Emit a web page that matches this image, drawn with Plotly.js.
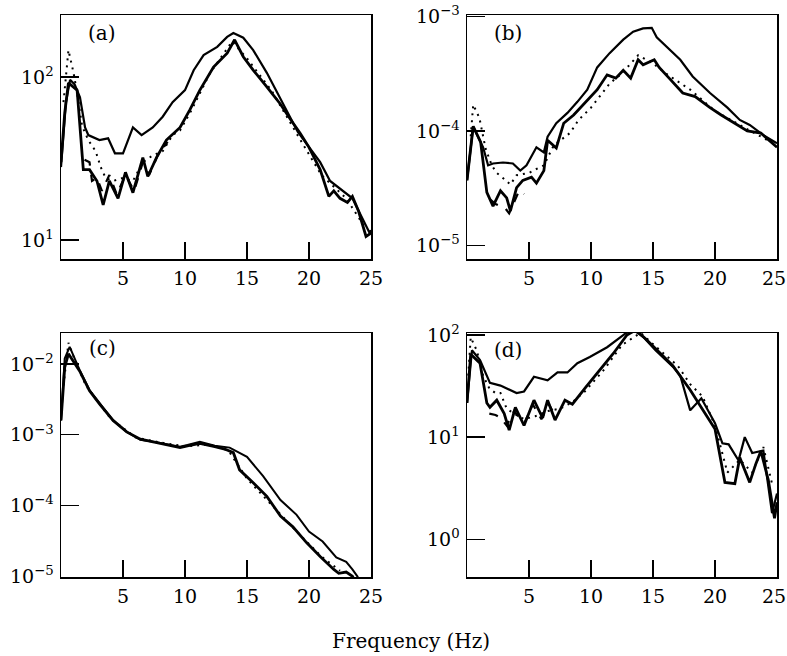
<!DOCTYPE html>
<html>
<head>
<meta charset="utf-8">
<script src="https://cdn.plot.ly/plotly-3.0.1.min.js"></script>
<style>html,body{margin:0;padding:0;background:#fff;}#chart{width:787px;height:656px;}</style>
</head>
<body>
<div id="chart"></div>
<script>
// ---------- Panel (a) ----------
const aUpperX = [0, 0.4, 0.73, 1.1, 1.53, 1.94, 2.2, 3.1, 3.8, 4.35, 5.0, 5.8, 6.5, 7.4, 8.2, 9.0, 10.0, 10.7, 11.5, 12.6, 13.4, 13.9, 14.7, 15.5, 16.6, 17.7, 18.5, 19.1, 19.8, 20.9, 21.7, 22.4, 23.5, 24.1, 24.9, 25];
const aUpperY = [28, 70, 96, 90, 75, 49, 44, 41, 42, 34, 34, 49, 44, 49, 57, 70, 83, 110, 136, 153, 176, 186, 174, 146, 106, 74, 56, 46, 39, 30, 23, 21, 18, 14.6, 11, 11.5];
const aLowerX = [0, 0.3, 0.6, 1.3, 1.8, 2.3, 2.9, 3.4, 3.9, 4.6, 5.2, 5.8, 6.6, 7.0, 7.7, 8.5, 9.6, 10.4, 11.2, 12.3, 13.4, 14.0, 14.7, 15.5, 16.6, 17.7, 18.5, 19.3, 20.0, 20.9, 21.6, 22.0, 22.5, 23.1, 23.5, 24.0, 24.6, 25];
const aLowerY = [30, 60, 92, 83, 27, 27, 23, 16.4, 23, 18, 26, 19.5, 32, 24.5, 32, 41, 49, 63, 83, 115, 140, 169, 133, 110, 87, 68, 55, 45, 37, 27, 18.5, 20, 18, 17, 18.5, 15, 10.5, 11];
const aDashX = [1.9, 2.3, 2.5, 2.9, 3.3, 3.9, 4.5, 5.2, 5.9, 6.6, 7.1, 7.8, 8.6];
const aDashY = [31, 30, 23, 24, 20, 25, 19, 25, 20, 30, 25, 33, 40];
const aDotX = [0.2, 0.6, 1.0, 1.3, 1.7, 2.2, 2.8, 3.2, 3.6, 4.2, 5.0, 5.8, 6.6, 7.4, 8.2, 9.0, 9.6, 10.5, 12.0, 13.8, 15.0, 17.0, 19.0, 21.0, 23.0, 24.5];
const aDotY = [70, 146, 107, 80, 50, 41, 35, 28, 24, 23, 24, 23, 30, 33, 35, 44, 47, 62, 105, 165, 130, 82, 45, 25, 18, 12];

// ---------- Panel (b) ----------
const bUpperX = [0, 0.5, 1.3, 1.7, 2.1, 2.9, 3.7, 4.3, 4.8, 5.6, 6.2, 6.5, 7.2, 8.1, 8.9, 9.7, 10.5, 11.5, 12.6, 13.4, 14.2, 14.9, 15.3, 16.1, 17.2, 18.2, 19.6, 21.0, 22.0, 22.8, 23.9, 25];
const bUpperY = [3.7e-5, 1.09e-4, 7.2e-5, 5.0e-5, 5.2e-5, 5.3e-5, 5.2e-5, 4.5e-5, 5.0e-5, 7.2e-5, 6.5e-5, 8.9e-5, 1.17e-4, 1.44e-4, 1.8e-4, 2.3e-4, 3.6e-4, 4.8e-4, 6.3e-4, 7.4e-4, 7.9e-4, 8.0e-4, 6.6e-4, 5.5e-4, 4.2e-4, 3.0e-4, 2.15e-4, 1.6e-4, 1.25e-4, 1.13e-4, 9.2e-5, 7.8e-5];
const bLowerX = [0, 0.5, 1.1, 1.6, 2.1, 2.7, 3.2, 3.5, 4.0, 4.5, 5.2, 5.6, 6.2, 6.5, 7.2, 7.8, 8.6, 9.7, 10.5, 11.3, 12.0, 12.6, 13.2, 13.8, 14.2, 15.1, 15.5, 16.3, 17.4, 18.4, 19.6, 20.5, 21.8, 22.6, 23.7, 25];
const bLowerY = [3.7e-5, 1.1e-4, 8.0e-5, 2.9e-5, 2.2e-5, 3.0e-5, 2.6e-5, 2.0e-5, 3.2e-5, 3.7e-5, 3.95e-5, 3.5e-5, 4.5e-5, 8.3e-5, 7.1e-5, 1.17e-4, 1.38e-4, 1.87e-4, 2.3e-4, 3.1e-4, 2.9e-4, 3.4e-4, 2.9e-4, 4.2e-4, 3.8e-4, 4.2e-4, 3.6e-4, 2.9e-4, 2.15e-4, 2.0e-4, 1.6e-4, 1.38e-4, 1.13e-4, 1.0e-4, 9.6e-5, 7.2e-5];
const bDashX = [1.9, 2.3, 3.1, 3.4, 4.2, 4.6];
const bDashY = [2.5e-5, 2.3e-5, 2.1e-5, 1.9e-5, 3.0e-5, 2.8e-5];
const bDotX = [0.3, 0.5, 1.0, 1.5, 2.0, 2.4, 3.0, 3.5, 4.0, 5.0, 5.5, 6.2, 7.0, 8.3, 9.0, 10.0, 11.5, 12.5, 13.8, 15.0, 16.2, 18.0, 20.0, 22.5, 25];
const bDotY = [9e-5, 1.7e-4, 1.3e-4, 7e-5, 5e-5, 4.3e-5, 3.8e-5, 3.4e-5, 4.1e-5, 4.3e-5, 4.6e-5, 5e-5, 7.5e-5, 9.6e-5, 1.25e-4, 1.6e-4, 2.6e-4, 3.2e-4, 4.6e-4, 3.9e-4, 3.1e-4, 2.3e-4, 1.5e-4, 1.05e-4, 7.5e-5];

// ---------- Panel (c) ----------
const cUpperX = [0, 0.3, 0.7, 1.5, 2.3, 3.1, 4.2, 5.3, 6.4, 8.0, 9.6, 10.2, 11.2, 12.4, 13.6, 15.0, 16.3, 17.7, 19.0, 20.0, 21.1, 22.2, 23.0, 23.5, 23.9, 24.5];
const cUpperY = [1.6e-3, 1.2e-2, 1.75e-2, 8.3e-3, 4.3e-3, 2.8e-3, 1.6e-3, 1.1e-3, 8.5e-4, 7.7e-4, 6.8e-4, 7.2e-4, 8e-4, 7e-4, 6.6e-4, 4.9e-4, 2.6e-4, 1.2e-4, 7.4e-5, 4.3e-5, 3.1e-5, 1.85e-5, 1.6e-5, 1.25e-5, 1e-5, 6e-6];
const cLowerX = [0, 0.3, 0.6, 1.5, 2.3, 3.1, 4.2, 5.3, 6.4, 8.0, 9.6, 10.2, 11.2, 12.4, 13.2, 13.9, 14.4, 15.5, 16.6, 17.7, 18.7, 19.8, 20.9, 22.0, 22.4, 23.0, 23.5, 24.0];
const cLowerY = [1.6e-3, 9e-3, 1.4e-2, 8.0e-3, 4.2e-3, 2.75e-3, 1.6e-3, 1.1e-3, 8.7e-4, 7.6e-4, 6.6e-4, 7.0e-4, 7.6e-4, 6.8e-4, 6.3e-4, 5.6e-4, 3.2e-4, 2.1e-4, 1.35e-4, 7.1e-5, 5.0e-5, 3.0e-5, 1.9e-5, 1.25e-5, 1.1e-5, 1.15e-5, 1e-5, 7e-6];
const cDotX = [0.2, 0.6, 1.0, 2.0, 4.0, 6.0, 8.0, 10.0, 12.0, 13.5, 15.0, 17.0, 19.0, 21.0, 22.5];
const cDotY = [5e-3, 2.0e-2, 1.3e-2, 5e-3, 1.7e-3, 9.2e-4, 7.8e-4, 6.9e-4, 7.3e-4, 6.0e-4, 2.4e-4, 1.0e-4, 4.3e-5, 1.9e-5, 1.2e-5];

// ---------- Panel (d) ----------
const dUpperX = [0, 0.4, 1.05, 1.6, 1.85, 2.7, 3.2, 4.0, 4.6, 5.4, 6.5, 7.3, 8.1, 8.9, 9.9, 11.3, 12.6, 13.3, 14.2, 15.2, 16.6, 17.2, 18.0, 18.9, 20.0, 20.6, 21.1, 21.9, 22.4, 23.0, 23.9, 24.6, 25];
const dUpperY = [21.6, 71, 57, 39, 34, 32, 30, 27, 28, 39, 36, 43, 43, 53, 61, 76, 100, 115, 96, 71, 49, 40, 18.3, 24, 13.7, 8.7, 8.5, 5.9, 10, 7, 7.4, 1.8, 2.8];
const dLowerX = [0, 0.3, 1.05, 1.6, 1.85, 2.4, 3.0, 3.4, 3.9, 4.6, 5.4, 6.1, 6.5, 7.1, 7.9, 8.5, 9.6, 10.7, 11.8, 12.9, 13.6, 14.4, 15.5, 16.6, 18.0, 19.1, 20.0, 20.8, 21.6, 22.0, 22.8, 23.3, 23.7, 24.3, 24.8, 25];
const dLowerY = [21.6, 65, 53, 21.6, 19.6, 23, 17, 11.7, 19.6, 13, 23, 15.4, 23, 14.7, 23, 21, 31, 45, 66, 100, 112, 92, 68, 50, 29, 18, 12, 3.6, 3.5, 6.3, 3.6, 5.5, 7.3, 3.8, 1.6, 2.3];
const dDashX = [1.8, 2.3, 2.7, 3.2, 3.8, 4.6, 5.3, 6.0, 6.6, 7.2];
const dDashY = [17, 16.5, 15.5, 13, 18, 13.5, 21, 15, 21, 15.5];
const dDotX = [0.1, 0.3, 0.8, 1.3, 1.8, 2.3, 2.7, 3.2, 3.8, 4.6, 5.5, 6.5, 7.5, 8.5, 9.5, 11.0, 12.5, 14.0, 15.5, 17.0, 18.0, 19.0, 20.0, 21.0, 22.0, 23.0, 23.9, 24.6];
const dDotY = [40, 95, 70, 40, 30, 27, 27, 19, 17, 15, 16, 18, 19, 22, 28, 45, 80, 105, 72, 50, 33, 25, 13, 4.5, 6, 4.5, 8, 3.5];

// ---------- Axis ticks and labels ----------
const panelLabels = ['(a)', '(b)', '(c)', '(d)'];
const xTickVals = [5, 10, 15, 20, 25];
const xTickText = ['5', '10', '15', '20', '25'];
const xTickTextRight = ['5', '10', '15', '20', '25\u00a0'];
const aTickVals = [10, 100];
const aTickText = ['10<sup>1</sup>', '10<sup>2</sup>'];
const bTickVals = [1e-5, 1e-4, 1e-3];
const bTickText = ['10<sup>\u22125</sup>', '10<sup>\u22124</sup>', '10<sup>\u22123</sup>'];
const cTickVals = [1e-5, 1e-4, 1e-3, 1e-2];
const cTickText = ['10<sup>\u22125</sup>', '10<sup>\u22124</sup>', '10<sup>\u22123</sup>', '10<sup>\u22122</sup>'];
const dTickVals = [1, 10, 100];
const dTickText = ['10<sup>0</sup>', '10<sup>1</sup>', '10<sup>2</sup>'];
const xTitle = 'Frequency (Hz)';

const FONT = 'DejaVu Serif, serif';

function line(x, y, xa, ya, width, dash) {
  return {x: x, y: y, xaxis: xa, yaxis: ya, type: 'scatter', mode: 'lines',
    line: {color: '#000', width: width, dash: dash || 'solid'}, hoverinfo: 'skip', showlegend: false};
}
const DOT = '2px,5px';

const traces = [
  line(aDotX, aDotY, 'x', 'y', 2, DOT),
  line(aDashX, aDashY, 'x', 'y', 2.2, 'dash'),
  line(aUpperX, aUpperY, 'x', 'y', 2.2),
  line(aLowerX, aLowerY, 'x', 'y', 2.8),
  line(bDotX, bDotY, 'x2', 'y2', 2, DOT),
  line(bDashX, bDashY, 'x2', 'y2', 2.2, 'dash'),
  line(bUpperX, bUpperY, 'x2', 'y2', 2.2),
  line(bLowerX, bLowerY, 'x2', 'y2', 2.8),
  line(cDotX, cDotY, 'x3', 'y3', 2, DOT),
  line(cUpperX, cUpperY, 'x3', 'y3', 2),
  line(cLowerX, cLowerY, 'x3', 'y3', 2.8),
  line(dDotX, dDotY, 'x4', 'y4', 2, DOT),
  line(dDashX, dDashY, 'x4', 'y4', 2.2, 'dash'),
  line(dUpperX, dUpperY, 'x4', 'y4', 2.2),
  line(dLowerX, dLowerY, 'x4', 'y4', 2.8)
];

const W = 787, H = 656;
function dom(a, b, total) { return [a / total, b / total]; }
const colL = dom(61, 371, W), colR = dom(467, 777, W);
const rowT = [1 - 259 / H, 1 - 15 / H], rowB = [1 - 577 / H, 1 - 333 / H];

function xax(domain, anchor, text) {
  return {domain: domain, anchor: anchor, range: [0, 25], showgrid: false, zeroline: false,
    showline: true, linecolor: '#000', linewidth: 1.5, mirror: true,
    ticks: 'inside', ticklen: 17, tickwidth: 1.3, tickcolor: '#000',
    tickvals: xTickVals, ticktext: text, ticklabelstandoff: 2, ticklabeloverflow: 'allow',
    tickfont: {family: FONT, size: 19, color: '#000'}};
}
function yax(domain, anchor, range, vals, text) {
  return {domain: domain, anchor: anchor, type: 'log', range: range, showgrid: false, zeroline: false,
    showline: true, linecolor: '#000', linewidth: 1.5, mirror: true,
    ticks: 'inside', ticklen: 18, tickwidth: 1.3, tickcolor: '#000',
    tickvals: vals, ticktext: text, ticklabelstandoff: 2, ticklabeloverflow: 'allow',
    tickfont: {family: FONT, size: 19, color: '#000'}};
}

const layout = {
  width: W, height: H, margin: {l: 0, r: 0, t: 0, b: 0},
  paper_bgcolor: '#fff', plot_bgcolor: '#fff', showlegend: false,
  xaxis: xax(colL, 'y', xTickText), yaxis: yax(rowT, 'x', [0.883, 2.38], aTickVals, aTickText),
  xaxis2: xax(colR, 'y2', xTickTextRight), yaxis2: yax(rowT, 'x2', [-5.12, -2.985], bTickVals, bTickText),
  xaxis3: xax(colL, 'y3', xTickText), yaxis3: yax(rowB, 'x3', [-5.01, -1.56], cTickVals, cTickText),
  xaxis4: xax(colR, 'y4', xTickTextRight), yaxis4: yax(rowB, 'x4', [-0.37, 2.02], dTickVals, dTickText),
  annotations: [
    {text: panelLabels[0], xref: 'paper', yref: 'paper', x: 102 / W, y: 1 - 33 / H, showarrow: false, xanchor: 'center', yanchor: 'middle', font: {family: FONT, size: 20, color: '#000'}},
    {text: panelLabels[1], xref: 'paper', yref: 'paper', x: 508 / W, y: 1 - 33 / H, showarrow: false, xanchor: 'center', yanchor: 'middle', font: {family: FONT, size: 20, color: '#000'}},
    {text: panelLabels[2], xref: 'paper', yref: 'paper', x: 102 / W, y: 1 - 348 / H, showarrow: false, xanchor: 'center', yanchor: 'middle', font: {family: FONT, size: 20, color: '#000'}},
    {text: panelLabels[3], xref: 'paper', yref: 'paper', x: 508 / W, y: 1 - 350 / H, showarrow: false, xanchor: 'center', yanchor: 'middle', font: {family: FONT, size: 20, color: '#000'}},
    {text: xTitle, xref: 'paper', yref: 'paper', x: 411 / W, y: 1 - 641 / H, showarrow: false, xanchor: 'center', yanchor: 'middle', font: {family: FONT, size: 20, color: '#000'}}
  ]
};

Plotly.newPlot('chart', traces, layout, {displayModeBar: false, staticPlot: true});
</script>
</body>
</html>
